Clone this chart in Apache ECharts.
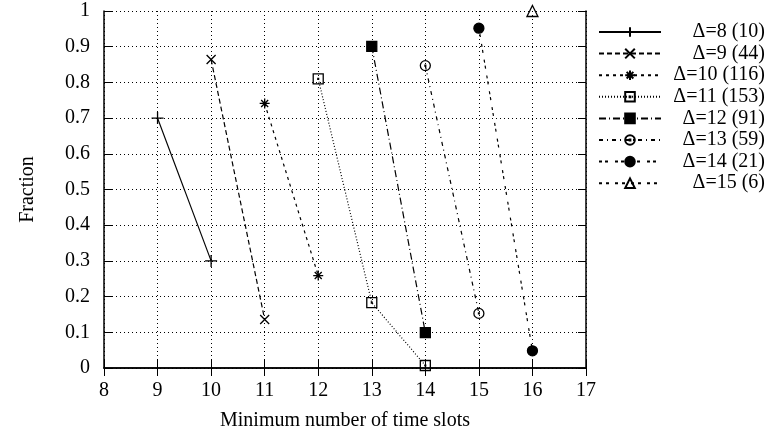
<!DOCTYPE html>
<html>
<head>
<meta charset="utf-8">
<script src="https://cdn.jsdelivr.net/npm/echarts@6/dist/echarts.min.js"></script>
<style>html,body{margin:0;padding:0;background:#fff}#c{width:767px;height:436px}</style>
</head>
<body>
<div id="c"></div>
<script>
var names = ['Δ=8 (10)','Δ=9 (44)','Δ=10 (116)','Δ=11 (153)','Δ=12 (91)','Δ=13 (59)','Δ=14 (21)','Δ=15 (6)'];
var xs8 = [9,10],        ys8 = [0.7,0.3];
var xs9 = [10,11],       ys9 = [0.864,0.136];
var xs10 = [11,12],      ys10 = [0.741,0.259];
var xs11 = [12,13,14],   ys11 = [0.81,0.183,0.007];
var xs12 = [13,14],      ys12 = [0.901,0.099];
var xs13 = [14,15],      ys13 = [0.847,0.153];
var xs14 = [15,16],      ys14 = [0.952,0.048];
var xs15 = [16],         ys15 = [1.0];
var xTicks = [8,9,10,11,12,13,14,15,16,17];
var yTicks = [0,0.1,0.2,0.3,0.4,0.5,0.6,0.7,0.8,0.9,1];

var allX = [xs8,xs9,xs10,xs11,xs12,xs13,xs14,xs15];
var allY = [ys8,ys9,ys10,ys11,ys12,ys13,ys14,ys15];
function pairs(xs, ys){ return xs.map(function(x,i){ return [x, ys[i]]; }); }

var FONT = 'Liberation Serif';
var FS = 20;
var symbols = [
  {s:'path://M0,5L10,5M5,0L5,10', size:12, fill:'none'},
  {s:'path://M0,0L10,10M10,0L0,10', size:9, fill:'none'},
  {s:'path://M0,5L10,5M5,0L5,10M1.5,1.5L8.5,8.5M8.5,1.5L1.5,8.5', size:10, fill:'none'},
  {s:'path://M0,0L10,0L10,10L0,10ZM4.6,4.6L5.4,4.6L5.4,5.4L4.6,5.4Z', size:10, fill:'none'},
  {s:'rect', size:10, fill:'#000'},
  {s:'path://M0,5A5,5 0 1,1 10,5A5,5 0 1,1 0,5ZM4.6,4.6L5.4,4.6L5.4,5.4L4.6,5.4Z', size:10, fill:'none'},
  {s:'circle', size:10, fill:'#000'},
  {s:'path://M5,0L10,9L0,9Z', size:11, fill:'none'}
];
var dashes = ['solid',[5,3],[3,4],[1,2],[7,3,1,3],[4,4,1,4],[3,3,3,7],[3,4,3,6]];

var series = names.map(function(n,i){
  return {
    name: n, type: 'line', data: pairs(allX[i], allY[i]),
    symbol: symbols[i].s, symbolSize: symbols[i].size,
    showAllSymbol: true, clip: false,
    lineStyle: {color:'#000', width:1.2, type: dashes[i]},
    itemStyle: {color: symbols[i].fill, borderColor:'#000', borderWidth:1.3},
    emphasis: {disabled:true},
    z: 5
  };
});

var axisLineStyle = {lineStyle:{color:'#000', width:1.5}};
var option = {
  animation: false,
  grid: {left:104, right:181, top:11, bottom:67},
  xAxis: [{
    type:'value', min:8, max:17, interval:1,
    axisLine: axisLineStyle,
    axisTick: {inside:true, length:8, lineStyle:{color:'#000', width:1}},
    axisLabel: {margin:13, color:'#000', fontFamily:FONT, fontSize:FS,
      customValues: xTicks},
    splitLine: {show:true, lineStyle:{color:'#000', width:1, type:[1,3]}},
    name: 'Minimum number of time slots', nameLocation:'middle', nameGap:43,
    nameTextStyle: {color:'#000', fontFamily:FONT, fontSize:FS}
  },{
    type:'value', position:'top', min:8, max:17, interval:1,
    axisLine: axisLineStyle,
    axisTick: {inside:true, length:8, lineStyle:{color:'#000', width:1}},
    axisLabel: {show:false}, splitLine:{show:false}
  }],
  yAxis: [{
    type:'value', min:0, max:1, interval:0.1,
    axisLine: Object.assign({show:true}, axisLineStyle),
    axisTick: {show:true, inside:true, length:8, lineStyle:{color:'#000', width:1}},
    axisLabel: {margin:14, color:'#000', fontFamily:FONT, fontSize:FS,
      formatter: function(v){ return String(Math.round(v*10)/10); }},
    splitLine: {show:true, lineStyle:{color:'#000', width:1, type:[1,3]}},
    name: 'Fraction', nameLocation:'middle', nameGap:66,
    nameTextStyle: {color:'#000', fontFamily:FONT, fontSize:FS}
  },{
    type:'value', position:'right', min:0, max:1, interval:0.1,
    axisLine: Object.assign({show:true}, axisLineStyle),
    axisTick: {show:true, inside:true, length:8, lineStyle:{color:'#000', width:1}},
    axisLabel: {show:false}, splitLine:{show:false}
  }],
  legend: {
    orient:'vertical', left:598, top:22, itemWidth:62, itemHeight:12, itemGap:1.6,
    padding:0,
    data: names, selectedMode:false,
    formatter: function(n){ return '{t|' + n + '}'; },
    textStyle: {color:'#000', fontFamily:FONT, fontSize:FS,
      rich:{t:{width:99, align:'right', fontFamily:FONT, fontSize:FS, lineHeight:20, color:'#000'}}}
  },
  series: series
};
var chart = echarts.init(document.getElementById('c'), null, {renderer:'canvas'});
chart.setOption(option);
</script>
</body>
</html>
